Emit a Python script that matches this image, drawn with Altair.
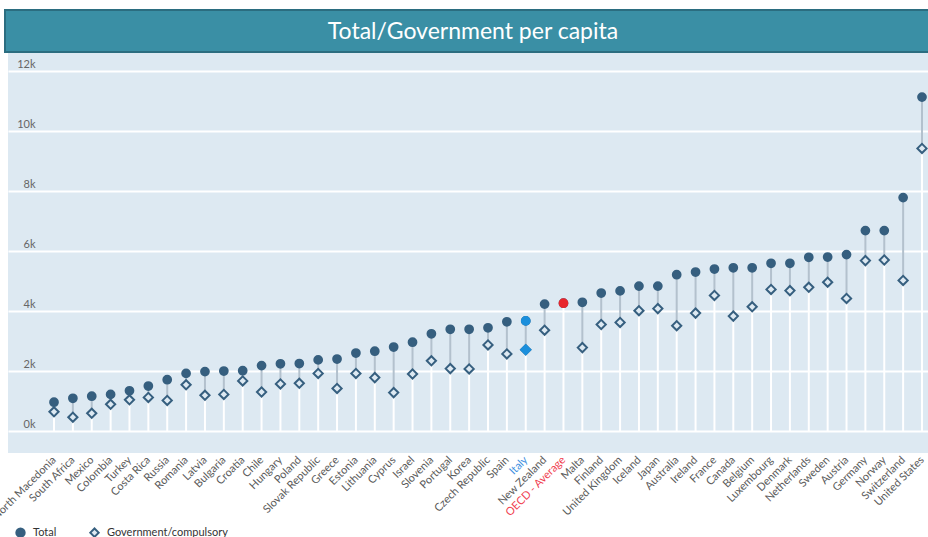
import altair as alt
import pandas as pd

countries = [
    "North Macedonia", "South Africa", "Mexico", "Colombia", "Turkey", "Costa Rica",
    "Russia", "Romania", "Latvia", "Bulgaria", "Croatia", "Chile", "Hungary", "Poland",
    "Slovak Republic", "Greece", "Estonia", "Lithuania", "Cyprus", "Israel", "Slovenia",
    "Portugal", "Korea", "Czech Republic", "Spain", "Italy", "New Zealand",
    "OECD - Average", "Malta", "Finland", "United Kingdom", "Iceland", "Japan",
    "Australia", "Ireland", "France", "Canada", "Belgium", "Luxembourg", "Denmark",
    "Netherlands", "Sweden", "Austria", "Germany", "Norway", "Switzerland", "United States",
]
total = [
    960, 1090, 1160, 1220, 1340, 1500, 1710, 1920, 1980, 2000, 2010, 2180, 2240, 2250,
    2370, 2400, 2600, 2660, 2800, 2960, 3240, 3390, 3390, 3440, 3640, 3670, 4230,
    4260, 4290, 4600, 4670, 4830, 4830, 5210, 5300, 5400, 5440, 5440, 5590, 5590,
    5790, 5800, 5880, 6680, 6680, 7780, 11130,
]
gov = [
    640, 460, 590, 890, 1040, 1120, 1020, 1540, 1190, 1220, 1670, 1300, 1570, 1590,
    1920, 1420, 1920, 1780, 1280, 1900, 2340, 2080, 2070, 2870, 2570, 2710, 3360,
    None, 2780, 3550, 3620, 4010, 4080, 3510, 3930, 4520, 3830, 4140, 4720, 4680,
    4790, 4960, 4420, 5680, 5700, 5020, 9420,
]
series_names = ["Total", "Government/compulsory"]
y_ticks = [0, 2000, 4000, 6000, 8000, 10000, 12000]
title_text = "Total/Government per capita"
highlight_colors = {"Italy": "#1b8fdc", "OECD - Average": "#e8262d"}
label_highlight = {"Italy": "#3d8fe0", "OECD - Average": "#f04050"}

FONT = "Lato"
DARK = "#365f7f"
BG = "#dde9f2"

idx = list(range(len(countries)))
rows = []
for i, c, t, g in zip(idx, countries, total, gov):
    rows.append({"i": i, "country": c, "series": "Total", "value": t})
    if g is not None:
        rows.append({"i": i, "country": c, "series": "Government/compulsory", "value": g})
long_df = pd.DataFrame(rows)
long_df["hl"] = long_df["country"].map(highlight_colors)

wide_df = pd.DataFrame({"i": idx, "country": countries, "total": total, "gov": gov})
wide_df["low"] = wide_df[["total", "gov"]].min(axis=1)

names_js = "[" + ",".join("'" + c + "'" for c in countries) + "]"
label_color = {
    "condition": [
        {"test": f"datum.value === {countries.index(c)}", "value": col}
        for c, col in label_highlight.items()
    ],
    "value": "#5a5a5a",
}

x_scale = alt.Scale(domain=[-2.438, 46.318], nice=False, zero=False)
y_scale = alt.Scale(domain=[-733, 12600], nice=False, zero=False)

x_enc = alt.X(
    "i:Q",
    scale=x_scale,
    axis=alt.Axis(
        values=idx, tickCount=len(idx) + 5, labelExpr=f"{names_js}[datum.value]",
        labelAngle=-45, labelAlign="right", labelBaseline="middle", labelPadding=5,
        ticks=False, tickSize=0, domain=False, grid=False, title=None, labelFontSize=11,
        labelColor=label_color, labelOverlap=False, labelFont=FONT, labelFlush=False,
        labelBound=False,
    ),
)
y_axis = alt.Axis(
    values=y_ticks, labelExpr="datum.value / 1000 + 'k'", grid=True, gridColor="white",
    gridWidth=2, domain=False, ticks=False, tickSize=0, labelAlign="right",
    labelPadding=-27, labelBaseline="bottom", labelOffset=-2, labelFontSize=11,
    labelColor="#666666", title=None, labelFont=FONT,
)

stems = alt.Chart(wide_df).mark_rule(color="white", strokeWidth=2).encode(
    x=x_enc,
    y=alt.Y("low:Q", scale=y_scale, axis=y_axis),
    y2=alt.datum(0),
)

connectors = alt.Chart(wide_df).transform_filter("isValid(datum.gov)").mark_rule(
    color="#b3c1cd", strokeWidth=2
).encode(
    x=alt.X("i:Q"),
    y=alt.Y("gov:Q"),
    y2="total:Q",
)

shape_scale = alt.Scale(domain=series_names, range=["circle", "diamond"])
legend = alt.Legend(
    title=None, orient="none", legendX=7, legendY=474, direction="horizontal",
    columns=2, columnPadding=29, labelFontSize=11, labelFont=FONT,
    labelColor="#333333", symbolSize=70, symbolStrokeWidth=2, labelOffset=7,
)


def series_layer(name, size):
    return alt.Chart(long_df).transform_filter(
        alt.datum.series == name
    ).mark_point(strokeWidth=2, opacity=1, size=size).encode(
        x=alt.X("i:Q"),
        y=alt.Y("value:Q"),
        shape=alt.Shape("series:N", scale=shape_scale, legend=legend),
        fill=alt.Fill("series:N", scale=alt.Scale(domain=series_names, range=[DARK, BG]),
                      legend=legend),
        stroke=alt.Stroke("series:N", scale=alt.Scale(domain=series_names, range=[DARK, DARK]),
                          legend=legend),
    )


def highlight_layer(name, size):
    return alt.Chart(long_df).transform_filter(
        (alt.datum.series == name) & alt.expr.isValid(alt.datum.hl)
    ).mark_point(strokeWidth=2, opacity=1, size=size, shape=("circle" if name == "Total" else "diamond")).encode(
        x=alt.X("i:Q"),
        y=alt.Y("value:Q"),
        fill=alt.Fill("hl:N", scale=None),
        stroke=alt.Stroke("hl:N", scale=None),
    )


title_df = pd.DataFrame({"t": [title_text]})
banner = alt.Chart(title_df).mark_rect(
    fill="#3a8fa5", stroke="#2b6d80", strokeWidth=2
).encode(
    x=alt.value(-3), x2=alt.value(935), y=alt.value(-43), y2=alt.value(-1)
)
banner_text = alt.Chart(title_df).mark_text(
    color="white", fontSize=23, font=FONT, align="center", baseline="middle"
).encode(
    x=alt.value(465), y=alt.value(-21), text="t:N"
)

chart = alt.layer(
    stems, connectors,
    series_layer("Total", 60), series_layer("Government/compulsory", 85),
    highlight_layer("Total", 60), highlight_layer("Government/compulsory", 85),
    banner, banner_text,
).properties(
    width=920,
    height=400,
    autosize="none",
    background="white",
    padding={"left": 8, "top": 53, "right": 0, "bottom": 84},
).configure_view(
    stroke=None, fill=BG
)

chart.save("out.html", embed_options={"renderer": "svg", "actions": False})
